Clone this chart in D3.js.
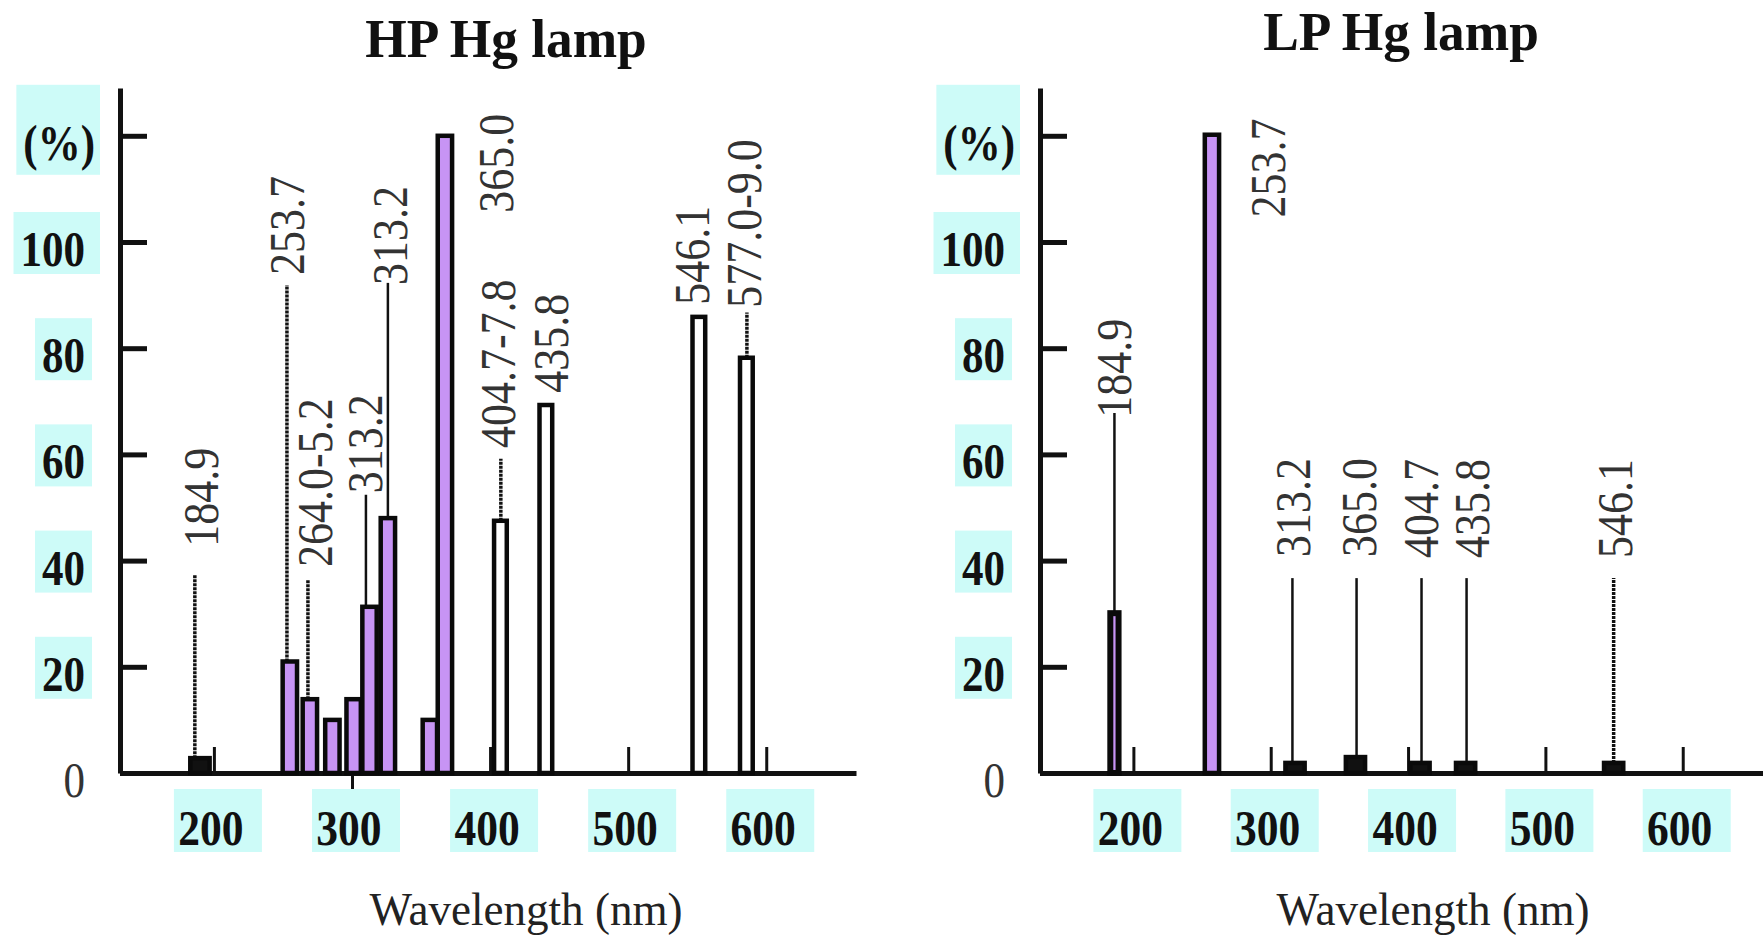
<!DOCTYPE html>
<html>
<head>
<meta charset="utf-8">
<script src="https://cdn.jsdelivr.net/npm/d3@7"></script>
<style>
  html, body { margin: 0; padding: 0; background: #fff; }
  svg { display: block; }
  text { font-family: "Liberation Serif", "Times New Roman", serif; }
</style>
</head>
<body>
<script>
// ---- data (wavelength in nm, intensity in %) ----

// HP Hg lamp
const hpBarWave  = [189.9, 255.0, 269.5, 285.8, 301.2, 312.7, 326.0, 356.4, 367.3, 407.5, 440.4, 551.2, 585.6];
const hpBarValue = [2.8, 21.0, 13.9, 10.0, 13.9, 31.3, 48.0, 10.0, 120.0, 47.5, 69.3, 85.9, 78.2];
const hpBarKind  = ["trace", "uv", "uv", "uv", "uv", "uv", "uv", "uv", "uv", "vis", "vis", "vis", "vis"];

const hpLineWave   = [186.2, 252.9, 268.1, 310.1, 326.0, 407.8, 586.0];
const hpLineFrom   = [2.8, 21.0, 13.9, 31.3, 48.0, 47.5, 78.2];
const hpLineTo     = [37.3, 91.9, 36.4, 52.4, 92.3, 59.2, 86.7];
const hpLineDotted = [true, true, true, false, false, true, true];

const hpLabelText  = ["184.9", "253.7", "264.0-5.2", "313.2", "313.2", "365.0", "404.7-7.8", "435.8", "546.1", "577.0-9.0"];
const hpLabelWave  = [191.0, 253.2, 273.5, 309.7, 327.4, 404.6, 406.0, 444.0, 546.1, 583.8];
const hpLabelValue = [42.6, 93.8, 38.8, 52.7, 91.9, 105.5, 61.2, 71.6, 88.2, 87.6];

// LP Hg lamp
const lpBarWave  = [186.2, 257.2, 317.7, 361.7, 408.7, 441.9, 549.7];
const lpBarValue = [30.1, 120.2, 1.9, 3.0, 1.9, 1.9, 1.9];
const lpBarKind  = ["uvThin", "uv", "trace", "trace", "trace", "trace", "trace"];

const lpLineWave   = [186.2, 315.8, 362.5, 409.8, 442.6, 549.7];
const lpLineFrom   = [30.1, 1.9, 3.0, 1.9, 1.9, 1.9];
const lpLineTo     = [67.8, 36.7, 36.7, 36.7, 36.7, 36.7];
const lpLineDotted = [false, false, false, false, false, true];

const lpLabelText  = ["184.9", "253.7", "313.2", "365.0", "404.7", "435.8", "546.1"];
const lpLabelWave  = [185.8, 298.0, 316.2, 364.3, 409.1, 446.6, 550.5];
const lpLabelValue = [66.9, 104.6, 40.7, 40.7, 40.5, 40.5, 40.5];

// axes
const xTicks = [200, 300, 400, 500, 600];
const yTicks = [0, 20, 40, 60, 80, 100, 120];
const yTickLabels = ["0", "20", "40", "60", "80", "100", "(%)"];

// ---- drawing ----
const W = 1763, H = 935;
const purple = "#c794f4", cyan = "#cdfbf8";

const svg = d3.select("body").append("svg")
    .attr("width", W)
    .attr("height", H);

function zip(wave, a, b, c) {
  return wave.map((w, i) => ({ wave: w, a: a[i], b: b ? b[i] : null, c: c ? c[i] : null }));
}

function drawPanel(opt) {
  const x = d3.scaleLinear().domain([132, 665]).range([opt.x0, opt.x1]);
  const y = d3.scaleLinear().domain([0, 129]).range([773, 88]);
  const g = svg.append("g");

  // title
  g.append("text")
      .attr("transform", `translate(${opt.titleX},${opt.titleY}) scale(0.97,1)`)
      .attr("text-anchor", "middle")
      .attr("font-size", 55)
      .attr("font-weight", "bold")
      .attr("fill", "#111")
      .text(opt.title);

  // y axis
  const yAxis = g.append("g")
      .attr("transform", `translate(${opt.x0},0)`)
      .call(d3.axisLeft(y).tickValues(yTicks).tickSize(-27).tickSizeOuter(0).tickFormat(""));
  yAxis.selectAll("line").attr("stroke", "#111").attr("stroke-width", 5);
  yAxis.select(".domain").attr("stroke", "#111").attr("stroke-width", 5);

  // y labels with cyan boxes
  yTicks.forEach((t, i) => {
    const lab = yTickLabels[i];
    const isZero = lab === "0";
    const right = opt.x0 - (lab === "(%)" ? 25 : 35);
    const txt = g.append("text")
        .attr("transform", `translate(${right},${y(t) + 24}) scale(0.86,1)`)
        .attr("text-anchor", "end")
        .attr("font-size", 50)
        .attr("font-weight", isZero ? "normal" : "bold")
        .attr("fill", isZero ? "#333" : "#111")
        .text(lab);
    if (!isZero) {
      const bb = txt.node().getBBox();
      const left = right - bb.width * 0.86 - 7;
      const boxRight = opt.x0 - (lab.length >= 3 ? 20 : 28);
      const top = lab === "(%)" ? y(t) - 51 : y(t) - 30;
      const bot = lab === "(%)" ? y(t) + 39 : y(t) + 32;
      g.insert("rect", "text")
          .attr("x", left).attr("y", top)
          .attr("width", boxRight - left).attr("height", bot - top)
          .attr("fill", cyan);
    }
  });

  // x axis
  const xAxis = g.append("g")
      .attr("transform", `translate(0,${y(0)})`)
      .call(d3.axisBottom(x).tickValues(xTicks).tickSize(-26).tickSizeOuter(0).tickFormat(""));
  xAxis.select(".domain").attr("stroke", "#111").attr("stroke-width", 5);
  xAxis.selectAll(".tick line")
      .attr("stroke", "#111").attr("stroke-width", 3)
      .attr("y2", d => opt.downTicks.includes(d) ? 27 : -26);

  xTicks.forEach(t => {
    g.append("rect")
        .attr("x", x(t) - 40).attr("y", 789)
        .attr("width", 88).attr("height", 63)
        .attr("fill", cyan);
    g.append("text")
        .attr("transform", `translate(${x(t) - 3},845) scale(0.87,1)`)
        .attr("text-anchor", "middle")
        .attr("font-size", 50)
        .attr("font-weight", "bold")
        .attr("fill", "#111")
        .text(t);
  });

  g.append("text")
      .attr("transform", `translate(${opt.xTitleX},925) scale(0.98,1)`)
      .attr("text-anchor", "middle")
      .attr("font-size", 46)
      .attr("fill", "#222")
      .text("Wavelength (nm)");

  // leader lines
  g.selectAll(".lead").data(zip(opt.lineWave, opt.lineFrom, opt.lineTo, opt.lineDotted)).join("line")
      .attr("class", "lead")
      .attr("x1", d => x(d.wave)).attr("x2", d => x(d.wave))
      .attr("y1", d => y(d.a)).attr("y2", d => y(d.b))
      .attr("stroke", "#111")
      .attr("stroke-width", d => d.c ? 3.5 : 2.5)
      .attr("stroke-dasharray", d => d.c ? "3,1" : null);

  // bars
  const halfW = { uv: 5.2, vis: 4.6, trace: 7, uvThin: 3 };
  const fill = { uv: purple, vis: "#fff", trace: "#111", uvThin: purple };
  g.selectAll(".bar").data(zip(opt.barWave, opt.barValue, opt.barKind)).join("rect")
      .attr("class", "bar")
      .attr("x", d => x(d.wave - halfW[d.b]))
      .attr("width", d => x(d.wave + halfW[d.b]) - x(d.wave - halfW[d.b]))
      .attr("y", d => y(d.a))
      .attr("height", d => y(0) - y(d.a))
      .attr("fill", d => fill[d.b])
      .attr("stroke", "#0a0a0a")
      .attr("stroke-width", d => d.b === "uvThin" ? 6 : 4.5);

  // rotated wavelength labels
  g.selectAll(".wl").data(zip(opt.labelWave, opt.labelValue, opt.labelText)).join("text")
      .attr("class", "wl")
      .attr("transform", d => `translate(${x(d.wave) + 17},${y(d.a)}) rotate(-90) scale(0.88,1)`)
      .attr("font-size", 50)
      .attr("fill", "#333")
      .text(d => d.b);
}

drawPanel({
  title: "HP Hg lamp", titleX: 506, titleY: 57, xTitleX: 526,
  x0: 120, x1: 856, downTicks: [300],
  barWave: hpBarWave, barValue: hpBarValue, barKind: hpBarKind,
  lineWave: hpLineWave, lineFrom: hpLineFrom, lineTo: hpLineTo, lineDotted: hpLineDotted,
  labelText: hpLabelText, labelWave: hpLabelWave, labelValue: hpLabelValue
});

drawPanel({
  title: "LP Hg lamp", titleX: 1401, titleY: 50, xTitleX: 1433,
  x0: 1040, x1: 1772, downTicks: [],
  barWave: lpBarWave, barValue: lpBarValue, barKind: lpBarKind,
  lineWave: lpLineWave, lineFrom: lpLineFrom, lineTo: lpLineTo, lineDotted: lpLineDotted,
  labelText: lpLabelText, labelWave: lpLabelWave, labelValue: lpLabelValue
});
</script>
</body>
</html>
